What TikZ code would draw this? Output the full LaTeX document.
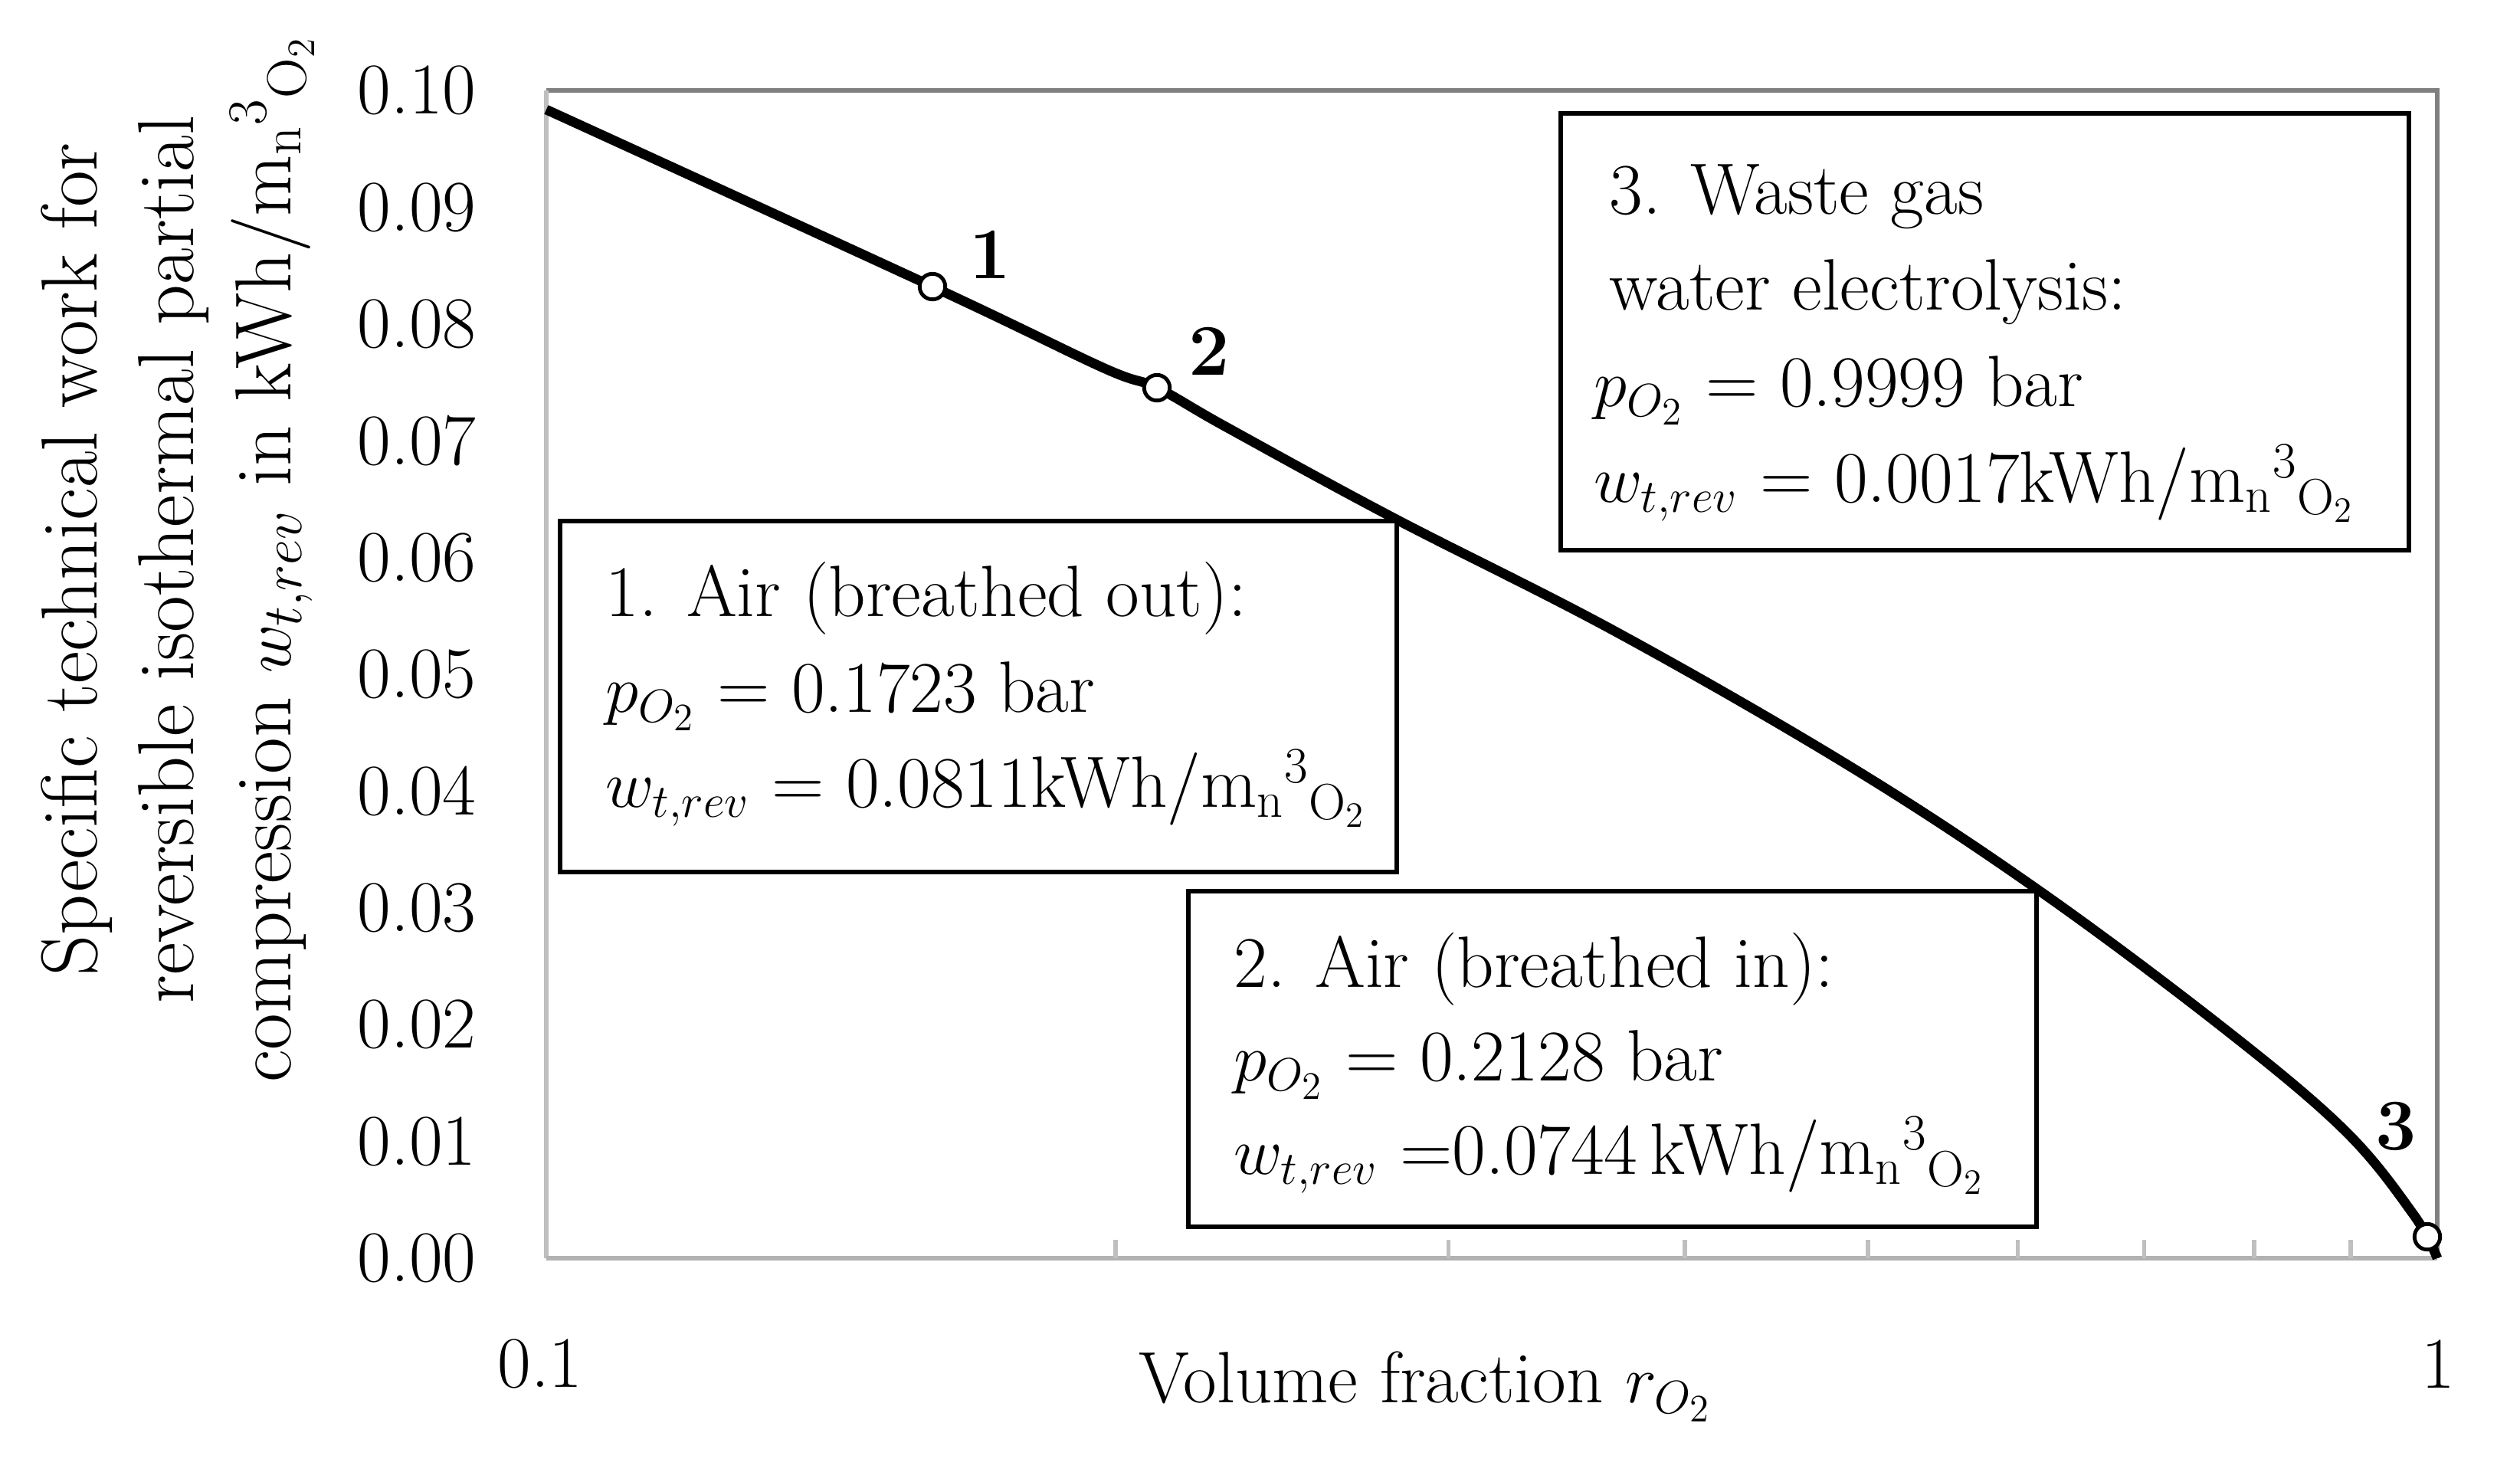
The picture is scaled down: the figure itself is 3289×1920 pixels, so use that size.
\documentclass[tikz,border=0pt]{standalone}
\usepackage{fontspec}
\begin{document}
\begin{tikzpicture}[x=0.01cm,y=-0.01cm,
  txt/.style={font=\fontsize{27}{32}\selectfont, inner sep=0pt},
  box/.style={draw=black, line width=1.5pt, fill=white},
  lab/.style={txt, anchor=base west, align=left},
  pt/.style={circle, draw=black, fill=white, line width=1.4pt, minimum size=9.5pt, inner sep=0pt},
  tick/.style={draw=black!25, line width=1.6pt}]
\useasboundingbox (0,0) rectangle (3289,1920);
% frame
\draw[draw=black!50, line width=1.8pt] (713,118) -- (3181,118) -- (3181,1642);
\draw[draw=black!25, line width=1.8pt] (713,1642) -- (713,118);
\draw[draw=black!30, line width=1.8pt] (713,1642) -- (3181,1642);
\foreach \k in {2,...,9}{
  \pgfmathsetmacro{\xx}{713+2468*log10(\k)}
  \draw[tick] (\xx,1642) -- (\xx,1618);
}
% y tick labels
\foreach \v/\t in {0/0.00,1/0.01,2/0.02,3/0.03,4/0.04,5/0.05,6/0.06,7/0.07,8/0.08,9/0.09,10/0.10}{
  \node[txt, anchor=east] (yl\v) at (622,1642-152.4*\v) {\t};
}
\node[txt] (x01) at (705,1780) {0.1};
\node[txt] (x1) at (3182,1780) {1};
\node[txt] (xt) at (1860,1810) {Volume fraction $r_{O_2}$};
\node[txt, font=\fontsize{29.5}{34}\selectfont, rotate=90, align=center] (yt) at (232,730) {Specific technical work for\\[2pt] reversible isothermal partial\\[2pt] compression $w_{t,rev}$ in kWh/m\textsubscript{n}\textsuperscript{3}\textsubscript{O\textsubscript{2}}};
% curve
\draw[line width=3.6pt, line join=round] plot[smooth, tension=0.6] coordinates {(713,143) (1217,374) (1440,480) (1510,506) (1600,557) (1819,676) (2110,825) (2416,1001) (2661,1162) (2900,1340) (3060,1475) (3150,1585) (3181,1642)};
\node[pt] (p1) at (1217,374) {};
\node[pt] (p2) at (1510,506) {};
\node[pt] (p3) at (3168,1614) {};
\node[txt, font=\fontsize{27}{32}\selectfont\bfseries] (l1) at (1292,332) {1};
\node[txt, font=\fontsize{27}{32}\selectfont\bfseries] (l2) at (1578,458) {2};
\node[txt, font=\fontsize{27}{32}\selectfont\bfseries] (l3) at (3127,1470) {3};
% boxes
\draw[box] (731,680) rectangle (1823,1138);
\node[lab] (b1a) at (790,804) {1. Air (breathed out):};
\node[lab] (b1b) at (790,929) {$p_{O_2}$ = 0.1723 bar};
\node[lab] (b1c) at (790,1053) {$w_{t,rev}$ = 0.0811kWh/m\textsubscript{n}\textsuperscript{3}\textsubscript{O\textsubscript{2}}};
\draw[box] (1551,1163) rectangle (2658,1601);
\node[lab] (b2a) at (1610,1288) {2. Air (breathed in):};
\node[lab] (b2b) at (1610,1410) {$p_{O_2}$ = 0.2128 bar};
\node[lab] (b2c) at (1610,1532) {$w_{t,rev}$ =0.0744\,kWh/m\textsubscript{n}\textsuperscript{3}\textsubscript{O\textsubscript{2}}};
\draw[box] (2037,148) rectangle (3144,718);
\node[lab] (b3a) at (2100,279) {3. Waste gas};
\node[lab] (b3b) at (2100,404) {water electrolysis:};
\node[lab] (b3c) at (2080,530) {$p_{O_2}$ = 0.9999 bar};
\node[lab] (b3d) at (2080,655) {$w_{t,rev}$ = 0.0017kWh/m\textsubscript{n}\textsuperscript{3}\textsubscript{O\textsubscript{2}}};
\end{tikzpicture}
\end{document}
